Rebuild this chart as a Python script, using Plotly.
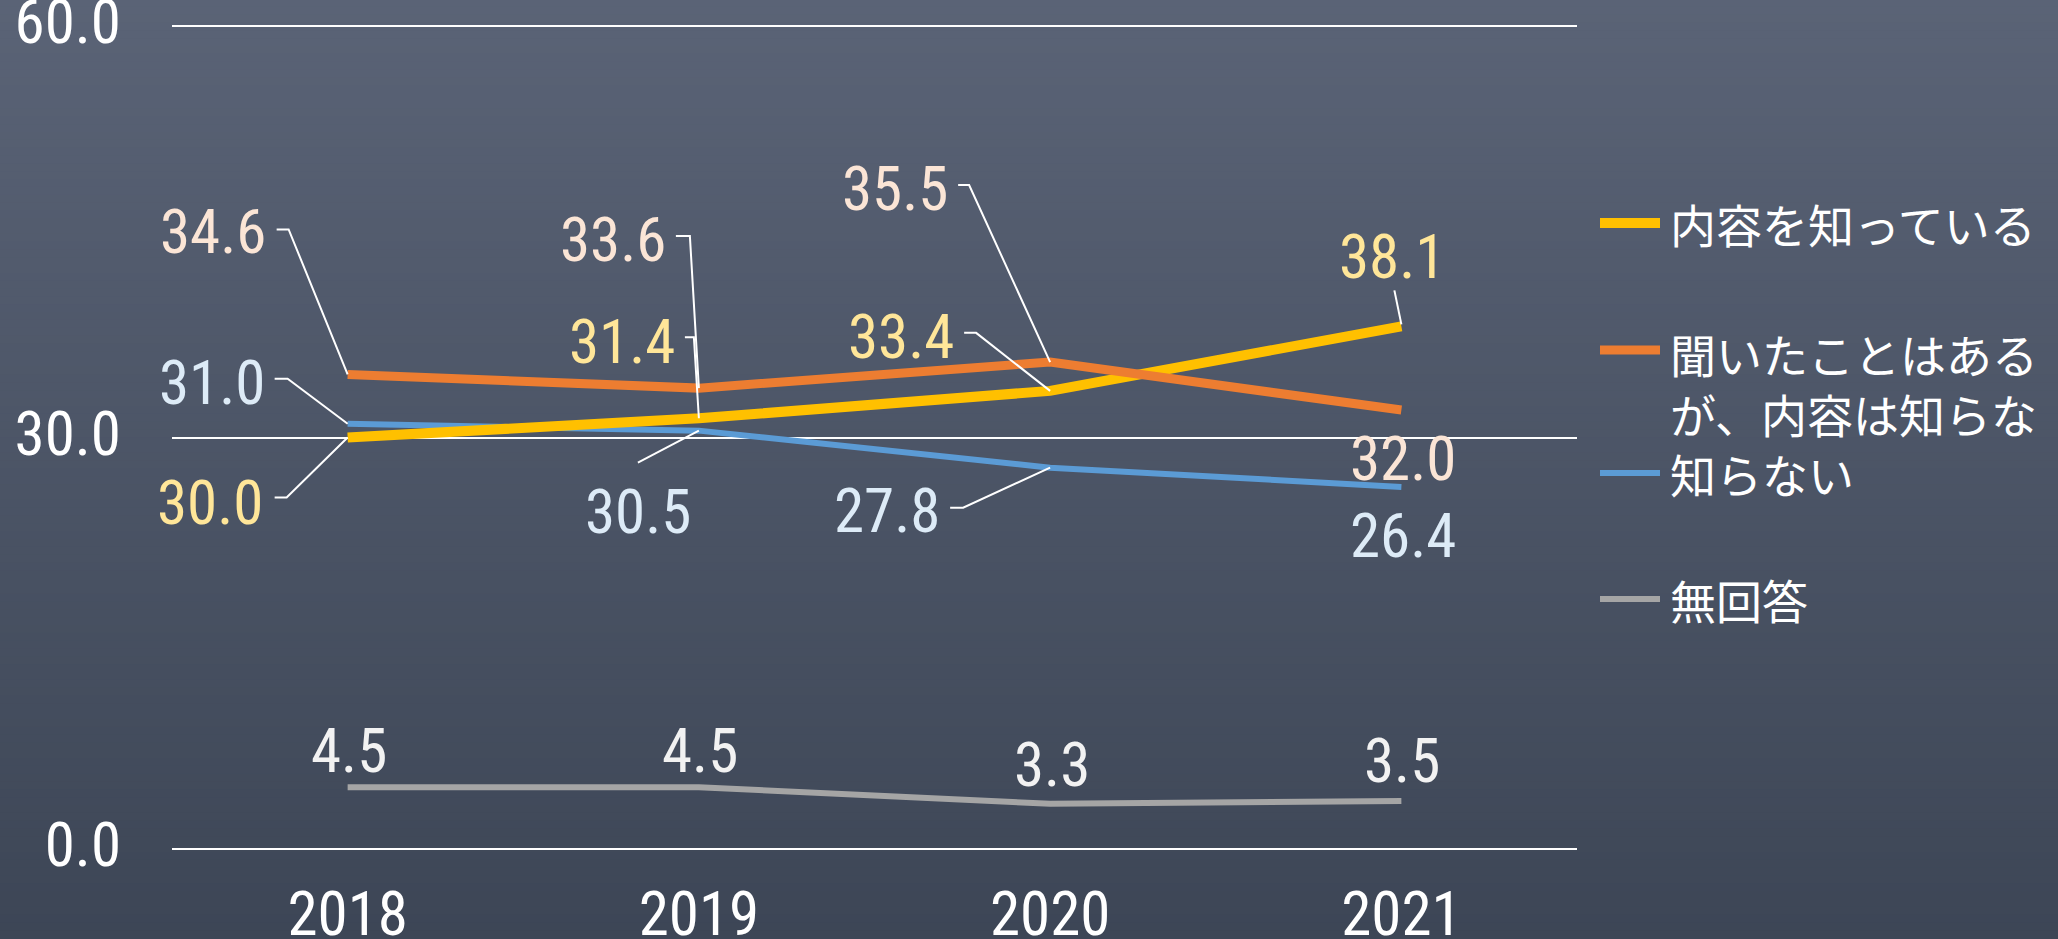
import plotly.graph_objects as go

# ---------------- data ----------------
years = ["2018", "2019", "2020", "2021"]
series_names = ["内容を知っている", "聞いたことはあるが、内容は知らない", "知らない", "無回答"]
legend_labels = ["内容を知っている", "聞いたことはある<br>が、内容は知らな", "知らない", "無回答"]
know = [30.0, 31.4, 33.4, 38.1]
heard = [34.6, 33.6, 35.5, 32.0]
dont_know = [31.0, 30.5, 27.8, 26.4]
no_answer = [4.5, 4.5, 3.3, 3.5]
y_tick_values = [0, 30, 60]
y_tick_labels = ["0.0", "30.0", "60.0"]

# ---------------- styles / layout ----------------
W, H = 2058, 939
EDGE = 2  # px of extra room so the 0 and 60 gridlines are drawn
L, R, T, B = 172, 481, 26 - EDGE, 90 - EDGE
PW, PH = W - L - R, H - T - B
y_pad = EDGE * 60 / (PH - 2 * EDGE)

line_colors = ["#FFC000", "#ED7D31", "#5B9BD5", "#A5A5A5"]
label_colors = ["#FFE699", "#FBE5D6", "#DDEBF7", "#F2F2F2"]
line_widths = [10, 9, 6, 6]
series_values = [know, heard, dont_know, no_answer]
draw_order = [2, 0, 1, 3]

NUM_FONT = "Roboto Condensed, Liberation Sans Narrow, Arial Narrow, DejaVu Sans Condensed, sans-serif"
NUM_SIZE = 61
JP_FONT = "Noto Sans CJK JP, Noto Sans, sans-serif"

# label centre offsets from the point (screen px, +down) and leader paths
label_offsets = [
    [(-138, 65), (-77, -76), (-149, -54), (-9, -69)],
    [(-135, -142), (-86, -148), (-155, -173), (2, 49)],
    [(-136, -41), (-61, 81), (-163, 43), (2, 49)],
    [(1, -36), (1, -36), (2, -39), (1, -40)],
]
leaders = [
    [[(-73, 60), (-61, 60), (0, 0)], [(-14, -81), (-5, -81), (0, 0)],
     [(-86, -58), (-74, -58), (0, 0)], [(-7, -36), (0, -2)]],
    [[(-71, -145), (-59, -145), (0, 0)], [(-23, -152), (-9, -152), (0, 0)],
     [(-92, -177), (-81, -177), (0, 0)], None],
    [[(-73, -45), (-60, -45), (0, 0)], [(-61, 32), (0, 0)],
     [(-100, 40), (-87, 40), (0, 0)], None],
    [None, None, None, None],
]

xs = list(range(len(years)))
fig = go.Figure()
for i in draw_order:
    fig.add_trace(go.Scatter(
        x=xs, y=series_values[i], name=series_names[i], mode="lines",
        line=dict(color=line_colors[i], width=line_widths[i]),
        showlegend=False, hoverinfo="skip"))

shapes = []
annotations = []


def py_paper(sy):
    return (H - B - sy) / PH


def px_paper(sx):
    return (sx - L) / PW


# background gradient
top_c = (90, 99, 118)
bot_c = (61, 70, 86)
N = 120
for k in range(N):
    f = k / (N - 1)
    c = tuple(round(top_c[j] + (bot_c[j] - top_c[j]) * f) for j in range(3))
    sy0 = H * k / N - 1
    sy1 = H * (k + 1) / N + 1
    shapes.append(dict(type="rect", xref="paper", yref="paper",
                       x0=px_paper(-2), x1=px_paper(W + 2),
                       y0=py_paper(sy1), y1=py_paper(sy0),
                       fillcolor="rgb(%d,%d,%d)" % c, line=dict(width=0), layer="below"))

# data labels + leader lines
for s in range(4):
    for j, v in enumerate(series_values[s]):
        dx, dy = label_offsets[s][j]
        annotations.append(dict(x=xs[j], y=v, xref="x", yref="y", text="%.1f" % v,
                                showarrow=False, xshift=dx, yshift=-dy,
                                xanchor="center", yanchor="middle",
                                font=dict(family=NUM_FONT, size=NUM_SIZE, color=label_colors[s])))
        pts = leaders[s][j]
        if pts:
            path = "M" + " L".join("%d,%d" % (px, -py) for px, py in pts)
            shapes.append(dict(type="path", xref="x", yref="y",
                               xsizemode="pixel", ysizemode="pixel",
                               xanchor=xs[j], yanchor=v, path=path,
                               line=dict(color="white", width=2)))

# legend (manual)
legend_y = [223, 350, 473, 599]
legend_text_y = [223, 383, 473, 599]
for s in range(4):
    yy = py_paper(legend_y[s])
    shapes.append(dict(type="line", xref="paper", yref="paper",
                       x0=px_paper(1600), x1=px_paper(1660), y0=yy, y1=yy,
                       line=dict(color=line_colors[s], width=line_widths[s])))
    annotations.append(dict(x=px_paper(1668), y=py_paper(legend_text_y[s]),
                            xref="paper", yref="paper", text=legend_labels[s],
                            showarrow=False, xanchor="left", yanchor="middle", align="left",
                            font=dict(family=JP_FONT, size=46, color="white")))

fig.update_layout(
    width=W, height=H, margin=dict(l=L, r=R, t=T, b=B, pad=0, autoexpand=False),
    paper_bgcolor="rgb(75,84,102)", plot_bgcolor="rgba(0,0,0,0)",
    shapes=shapes, annotations=annotations, showlegend=False,
    xaxis=dict(range=[-0.5, 3.5], tickvals=xs, ticktext=years, showgrid=False,
               zeroline=False, showline=False, ticks="", ticklabelstandoff=22,
               automargin=False, ticklabeloverflow="allow",
               tickfont=dict(family=NUM_FONT, size=NUM_SIZE, color="white"), fixedrange=True),
    yaxis=dict(range=[-y_pad, 60 + y_pad], tickvals=y_tick_values, ticktext=y_tick_labels,
               showgrid=True, gridcolor="white", gridwidth=2, zeroline=False,
               showline=False, ticks="", ticklabelstandoff=50, automargin=False,
               ticklabeloverflow="allow", ticklabelshift=-4,
               tickfont=dict(family=NUM_FONT, size=NUM_SIZE, color="white"), fixedrange=True),
)

fig.write_html("out.html", config={"displayModeBar": False},
               post_script="document.body.style.margin='0';")
